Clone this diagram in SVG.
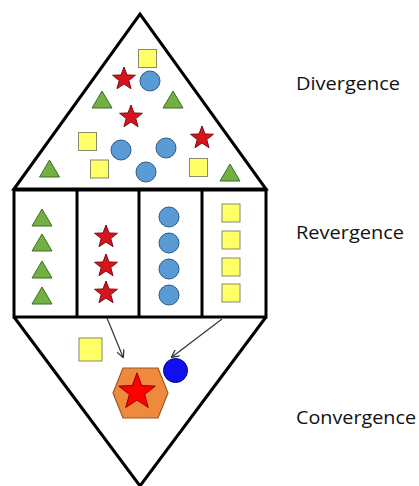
<svg xmlns="http://www.w3.org/2000/svg" xmlns:xlink="http://www.w3.org/1999/xlink" width="419" height="486" viewBox="0 0 419 486">
<style>
.outline{fill:none;stroke:#000;stroke-width:3;stroke-linejoin:miter}
.tri{fill:#72b043;stroke:#3f6e22;stroke-width:1}
.sq{fill:#ffff66;stroke:#8a8a6a;stroke-width:1}
.ci{fill:#5b9bd5;stroke:#2e5a86;stroke-width:1}
.st{fill:#d7141e;stroke:#7a0a0a;stroke-width:1}
.lbl{font-family:"Open Sans","Liberation Sans",Arial,sans-serif;font-size:18px;fill:#111}
.conn{stroke:#333;stroke-width:1.2;fill:none;marker-end:url(#ah)}
</style>
<defs>
<path id="star" d="M0,-12 L2.94,-4.05 L11.41,-3.71 L4.76,1.55 L7.05,9.71 L0,5 L-7.05,9.71 L-4.76,1.55 L-11.41,-3.71 L-2.94,-4.05 Z"/>
<path id="tri" d="M0,-9 L10,8 L-10,8 Z"/>
<rect id="sq" x="-9" y="-9" width="18" height="18"/>
<circle id="ci" cx="0" cy="0" r="10"/>
<marker id="ah" viewBox="0 0 10 10" refX="9" refY="5" markerWidth="8" markerHeight="8" orient="auto" markerUnits="userSpaceOnUse">
<path d="M0,0 L10,5 L0,10" fill="none" stroke="#333" stroke-width="1.6"/>
</marker>
</defs>
<rect width="419" height="486" fill="#fff"/>

<g id="divergence">
<path class="outline" d="M14,189 L140,14 L266,189 Z"/>
<use href="#sq" class="sq" x="147.5" y="58.5"/>
<use href="#star" class="st" x="124" y="79"/>
<use href="#ci" class="ci" x="150" y="81"/>
<use href="#tri" class="tri" x="102" y="100"/>
<use href="#tri" class="tri" x="173" y="100"/>
<use href="#star" class="st" x="131" y="117"/>
<use href="#star" class="st" x="202" y="138"/>
<use href="#sq" class="sq" x="87.5" y="141.5"/>
<use href="#ci" class="ci" x="121" y="150"/>
<use href="#ci" class="ci" x="166" y="148"/>
<use href="#sq" class="sq" x="99.5" y="169"/>
<use href="#ci" class="ci" x="146" y="172"/>
<use href="#sq" class="sq" x="198.5" y="167.5"/>
<use href="#tri" class="tri" x="49.5" y="169"/>
<use href="#tri" class="tri" x="230" y="173"/>
</g>

<g id="revergence">
<rect class="outline" x="14" y="190" width="252" height="127"/>
<line class="outline" x1="77" y1="190" x2="77" y2="317"/>
<line class="outline" x1="139" y1="190" x2="139" y2="317"/>
<line class="outline" x1="202" y1="190" x2="202" y2="317"/>
<use href="#tri" class="tri" x="42" y="218"/>
<use href="#tri" class="tri" x="42" y="243"/>
<use href="#tri" class="tri" x="42" y="270"/>
<use href="#tri" class="tri" x="42" y="296"/>
<use href="#star" class="st" x="106" y="237"/>
<use href="#star" class="st" x="106" y="266"/>
<use href="#star" class="st" x="106" y="293"/>
<use href="#ci" class="ci" x="169" y="217"/>
<use href="#ci" class="ci" x="169" y="243"/>
<use href="#ci" class="ci" x="169" y="269"/>
<use href="#ci" class="ci" x="169" y="295"/>
<use href="#sq" class="sq" x="231" y="213"/>
<use href="#sq" class="sq" x="231" y="240"/>
<use href="#sq" class="sq" x="231" y="267"/>
<use href="#sq" class="sq" x="231" y="293"/>
</g>

<g id="convergence">
<path class="outline" d="M14,317 L140,486 L266,317"/>
<rect x="79" y="338" width="23" height="23" fill="#ffff66" stroke="#8a8a6a" stroke-width="1"/>
<circle cx="175.5" cy="370.5" r="12" fill="#1010ee" stroke="#00008a" stroke-width="1"/>
<path d="M123,368 L158,368 L168,393 L158,418 L123,418 L113,393 Z" fill="#ef8a3c" stroke="#9a5a2a" stroke-width="1.2"/>
<use href="#star" x="137" y="392" transform="translate(137 392) scale(1.6) translate(-137 -392)" fill="#ff0000" stroke="#8a0000" stroke-width="0.6"/>
</g>

<g id="connectors">
<line class="conn" x1="107" y1="318" x2="123" y2="357"/>
<line class="conn" x1="222" y1="319" x2="172" y2="357"/>
</g>

<g id="labels">
<text class="lbl" x="296" y="90" textLength="104" lengthAdjust="spacingAndGlyphs">Divergence</text>
<text class="lbl" x="296" y="239" textLength="108" lengthAdjust="spacingAndGlyphs">Revergence</text>
<text class="lbl" x="296" y="424" textLength="120" lengthAdjust="spacingAndGlyphs">Convergence</text>
</g>
</svg>
